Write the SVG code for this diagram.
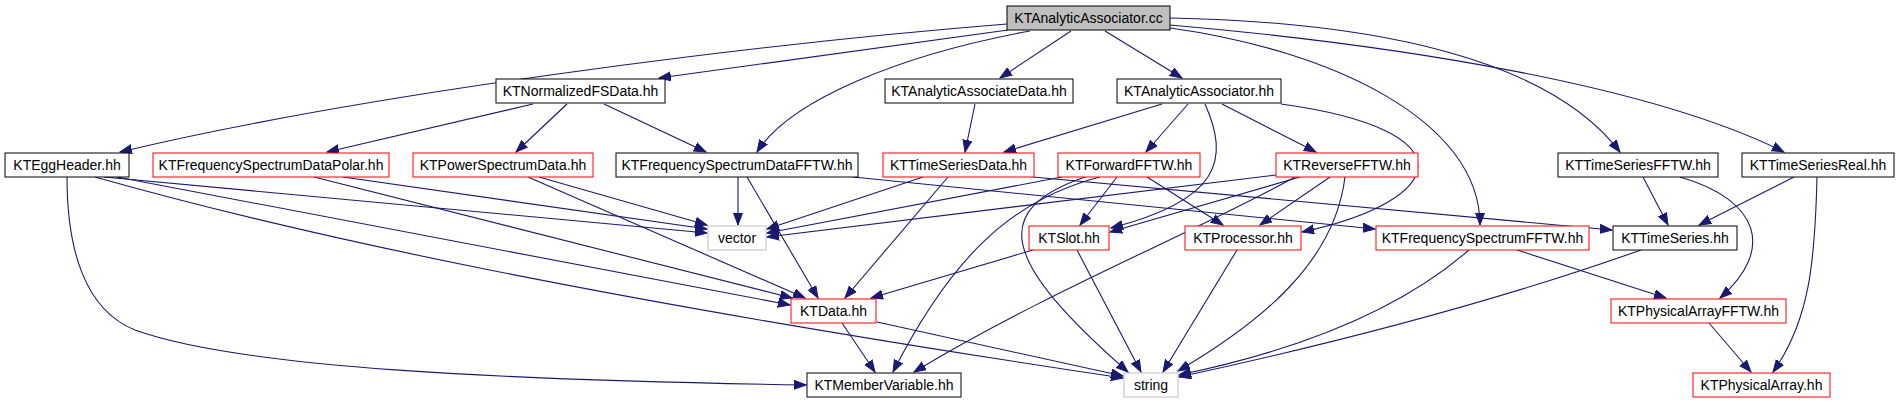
<svg xmlns="http://www.w3.org/2000/svg" width="1899" height="403" viewBox="0 0 1899 403">
<style>
.n rect{fill:#fff;stroke:#000;stroke-width:1}
.n.r rect{stroke:#ff0000}
.n.g rect{stroke:#bfbfbf}
.n.root rect{fill:#bfbfbf}
.n text{font-family:"Liberation Sans",Arial,Helvetica,sans-serif;font-size:14px;fill:#000;text-anchor:middle}
#edges path{fill:none;stroke:#191970;stroke-width:1.1;marker-end:url(#ah)}
</style>
<defs>
<marker id="ah" markerUnits="userSpaceOnUse" markerWidth="13" markerHeight="11" refX="12" refY="5" orient="auto">
<path d="M0,0.5 L12,5 L0,9.5 z" fill="#191970" stroke="#191970" stroke-width="1"/>
</marker>
</defs>
<rect width="1899" height="403" fill="#fff"/>
<g id="edges">
<path d="M1007,24 C780,42 380,90 120,152"/>
<path d="M1008,30 L659,78"/>
<path d="M1030,31 C900,55 790,100 757,152"/>
<path d="M1071,31 L1000,78"/>
<path d="M1105,31 L1182,78"/>
<path d="M1170,28 C1330,50 1480,120 1480,225"/>
<path d="M1170,18 C1380,22 1550,60 1620,152"/>
<path d="M1170,25 C1400,45 1650,85 1784,152"/>
<path d="M533,104 L327,152"/>
<path d="M567,104 L516,152"/>
<path d="M604,104 L706,152"/>
<path d="M975,104 L965,152"/>
<path d="M1162,104 L1004,152"/>
<path d="M1188,104 L1146,152"/>
<path d="M1222,104 L1316,152"/>
<path d="M1205,104 C1230,160 1220,200 1111,228"/>
<path d="M1281,104 C1470,130 1450,200 1302,232"/>
<path d="M67,177 C67,250 85,310 135,330 C240,368 500,380 806,385"/>
<path d="M104,177 L707,233"/>
<path d="M117,177 L790,305"/>
<path d="M95,177 C300,235 600,300 1123,378"/>
<path d="M343,177 L707,229"/>
<path d="M314,177 L792,298"/>
<path d="M539,177 L707,225"/>
<path d="M528,177 L805,298"/>
<path d="M738,177 L738,225"/>
<path d="M747,177 L818,298"/>
<path d="M853,177 L1375,229"/>
<path d="M923,177 L767,229"/>
<path d="M948,177 L845,298"/>
<path d="M1033,177 L1612,230"/>
<path d="M1062,177 L767,233"/>
<path d="M1117,177 L1080,225"/>
<path d="M1147,177 L1223,225"/>
<path d="M1100,177 C1010,200 950,260 893,372"/>
<path d="M1085,177 C990,210 1000,260 1128,372"/>
<path d="M1276,175 L767,237"/>
<path d="M1300,177 L1110,232"/>
<path d="M1295,177 C1200,230 1050,290 914,372"/>
<path d="M1330,177 L1260,225"/>
<path d="M1345,177 C1335,260 1265,320 1178,371"/>
<path d="M1033,250 L871,298"/>
<path d="M1077,250 L1141,372"/>
<path d="M1237,250 L1163,372"/>
<path d="M842,323 L875,372"/>
<path d="M877,322 L1123,376"/>
<path d="M1469,250 C1400,310 1300,350 1179,375"/>
<path d="M1517,250 L1666,298"/>
<path d="M1641,250 C1500,300 1350,340 1179,377"/>
<path d="M1643,177 L1668,225"/>
<path d="M1680,177 C1760,200 1775,250 1720,298"/>
<path d="M1794,177 L1699,225"/>
<path d="M1817,177 C1815,260 1810,320 1773,372"/>
<path d="M1709,323 L1751,372"/>
</g>
<g id="n-root" class="n root"><rect x="1007" y="6" width="163" height="24"/><text x="1088.5" y="23">KTAnalyticAssociator.cc</text></g>
<g id="n-normfs" class="n"><rect x="496" y="79" width="169" height="24"/><text x="580.5" y="96">KTNormalizedFSData.hh</text></g>
<g id="n-aadata" class="n"><rect x="885" y="79" width="188" height="24"/><text x="979" y="96">KTAnalyticAssociateData.hh</text></g>
<g id="n-aahh" class="n"><rect x="1117" y="79" width="164" height="24"/><text x="1199" y="96">KTAnalyticAssociator.hh</text></g>
<g id="n-egg" class="n"><rect x="5" y="153" width="124" height="24"/><text x="67" y="170">KTEggHeader.hh</text></g>
<g id="n-polar" class="n r"><rect x="153" y="153" width="236" height="24"/><text x="271" y="170">KTFrequencySpectrumDataPolar.hh</text></g>
<g id="n-power" class="n r"><rect x="413" y="153" width="180" height="24"/><text x="503" y="170">KTPowerSpectrumData.hh</text></g>
<g id="n-fsdfftw" class="n"><rect x="616" y="153" width="242" height="24"/><text x="737" y="170">KTFrequencySpectrumDataFFTW.hh</text></g>
<g id="n-tsdata" class="n r"><rect x="883" y="153" width="151" height="24"/><text x="958.5" y="170">KTTimeSeriesData.hh</text></g>
<g id="n-forward" class="n r"><rect x="1058" y="153" width="142" height="24"/><text x="1129" y="170">KTForwardFFTW.hh</text></g>
<g id="n-reverse" class="n r"><rect x="1276" y="153" width="142" height="24"/><text x="1347" y="170">KTReverseFFTW.hh</text></g>
<g id="n-tsfftw" class="n"><rect x="1558" y="153" width="160" height="24"/><text x="1638" y="170">KTTimeSeriesFFTW.hh</text></g>
<g id="n-tsreal" class="n"><rect x="1742" y="153" width="152" height="24"/><text x="1818" y="170">KTTimeSeriesReal.hh</text></g>
<g id="n-vector" class="n g"><rect x="708" y="226" width="58" height="24"/><text x="737" y="243">vector</text></g>
<g id="n-slot" class="n r"><rect x="1029" y="226" width="80" height="24"/><text x="1069" y="243">KTSlot.hh</text></g>
<g id="n-processor" class="n r"><rect x="1185" y="226" width="116" height="24"/><text x="1243" y="243">KTProcessor.hh</text></g>
<g id="n-fsfftw" class="n r"><rect x="1376" y="226" width="213" height="24"/><text x="1482.5" y="243">KTFrequencySpectrumFFTW.hh</text></g>
<g id="n-timeseries" class="n"><rect x="1613" y="226" width="124" height="24"/><text x="1675" y="243">KTTimeSeries.hh</text></g>
<g id="n-data" class="n r"><rect x="791" y="299" width="85" height="24"/><text x="833.5" y="316">KTData.hh</text></g>
<g id="n-pafftw" class="n r"><rect x="1611" y="299" width="175" height="24"/><text x="1698.5" y="316">KTPhysicalArrayFFTW.hh</text></g>
<g id="n-membervar" class="n"><rect x="807" y="373" width="154" height="24"/><text x="884" y="390">KTMemberVariable.hh</text></g>
<g id="n-string" class="n g"><rect x="1124" y="373" width="54" height="24"/><text x="1151" y="390">string</text></g>
<g id="n-pa" class="n r"><rect x="1693" y="373" width="137" height="24"/><text x="1761.5" y="390">KTPhysicalArray.hh</text></g>
</svg>
